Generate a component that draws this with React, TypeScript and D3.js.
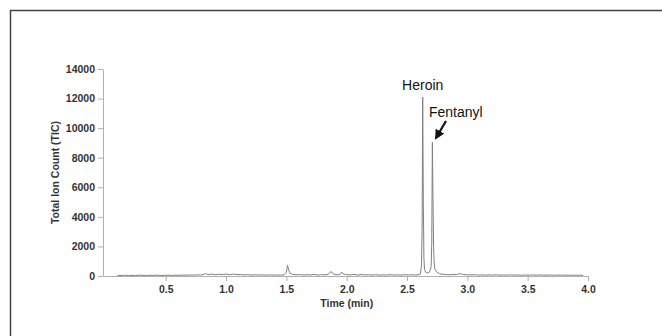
import * as d3 from "d3";
import { useEffect, useRef } from "react";

// retention time (min) and total ion count
const times = [
  0.1, 0.13, 0.16, 0.19, 0.22, 0.25, 0.28, 0.31, 0.34, 0.37, 0.4, 0.43, 0.46, 0.49,
  0.52, 0.55, 0.58, 0.61, 0.64, 0.67, 0.7, 0.73, 0.76, 0.79, 0.82, 0.83, 0.85, 0.88,
  0.91, 0.94, 0.97, 1.0, 1.03, 1.06, 1.09, 1.12, 1.15, 1.18, 1.21, 1.24, 1.27, 1.3,
  1.33, 1.36, 1.39, 1.42, 1.45, 1.48, 1.5, 1.51, 1.52, 1.53, 1.55, 1.58, 1.61, 1.64,
  1.67, 1.7, 1.73, 1.76, 1.79, 1.82, 1.85, 1.87, 1.88, 1.9, 1.93, 1.95, 1.96, 1.97,
  2.0, 2.03, 2.06, 2.09, 2.12, 2.15, 2.18, 2.21, 2.24, 2.27, 2.3, 2.33, 2.36, 2.39,
  2.42, 2.45, 2.48, 2.51, 2.54, 2.57, 2.6, 2.61, 2.62, 2.625, 2.63, 2.635, 2.64,
  2.645, 2.655, 2.67, 2.685, 2.695, 2.7, 2.705, 2.71, 2.715, 2.72, 2.725, 2.73,
  2.74, 2.755, 2.77, 2.79, 2.82, 2.85, 2.88, 2.91, 2.94, 2.95, 2.97, 3.0, 3.03,
  3.06, 3.09, 3.12, 3.15, 3.18, 3.21, 3.24, 3.27, 3.3, 3.33, 3.36, 3.39, 3.42, 3.45,
  3.48, 3.51, 3.54, 3.57, 3.6, 3.63, 3.66, 3.69, 3.72, 3.75, 3.78, 3.81, 3.84, 3.87,
  3.9, 3.93, 3.96,
];
const tic = [
  40, 30, 50, 35, 45, 30, 55, 40, 35, 50, 40, 60, 35, 45,
  50, 40, 55, 45, 60, 50, 70, 55, 80, 65, 110, 170, 90, 130,
  80, 120, 90, 140, 85, 130, 90, 100, 70, 90, 60, 80, 65, 75,
  55, 80, 60, 70, 55, 80, 250, 720, 400, 180, 110, 80, 100, 60,
  90, 70, 110, 60, 90, 75, 120, 310, 200, 100, 80, 150, 260, 140,
  90, 70, 110, 60, 100, 70, 85, 60, 95, 55, 75, 60, 90, 65,
  80, 60, 90, 70, 85, 60, 100, 130, 700, 3200, 12100, 5000, 1200,
  450, 250, 200, 260, 480, 650, 2200, 9050, 5200, 2000, 900, 500,
  320, 220, 160, 120, 100, 80, 110, 90, 160, 130, 100, 80, 70,
  90, 60, 80, 55, 75, 60, 85, 50, 70, 60, 80, 55, 70, 50,
  65, 55, 75, 50, 70, 60, 55, 70, 50, 65, 55, 60, 45, 60,
  50, 55, 45,
];
const xTicks = [0.5, 1.0, 1.5, 2.0, 2.5, 3.0, 3.5, 4.0];
const yTicks = [0, 2000, 4000, 6000, 8000, 10000, 12000, 14000];

const W = 662;
const H = 336;

export default function App() {
  const ref = useRef<SVGSVGElement | null>(null);

  useEffect(() => {
    if (!ref.current) return;
    const svg = d3.select(ref.current);
    svg.selectAll("*").remove();

    const font = "'Liberation Sans', Arial, sans-serif";

    // frame
    svg.append("path")
      .attr("d", `M10.5,${H} V10.5 H${W}`)
      .attr("fill", "none")
      .attr("stroke", "#444")
      .attr("stroke-width", 1.5);

    const x = d3.scaleLinear().domain([-0.02, 4]).range([103, 588]);
    const y = d3.scaleLinear().domain([0, 14000]).range([276, 69]);

    const xAxis = svg.append("g")
      .attr("transform", `translate(0,${y(0)})`)
      .call(d3.axisBottom(x).tickValues(xTicks).tickFormat(d3.format(".1f")).tickSize(5).tickSizeOuter(0).tickPadding(5));

    const yAxis = svg.append("g")
      .attr("transform", `translate(${x(-0.02)},0)`)
      .call(d3.axisLeft(y).tickValues(yTicks).tickFormat(d3.format("d")).tickSize(5).tickSizeOuter(0).tickPadding(3));

    [xAxis, yAxis].forEach((g) => {
      g.select(".domain").attr("stroke", "#b0b0b0");
      g.selectAll(".tick line").attr("stroke", "#b0b0b0");
      g.selectAll(".tick text")
        .attr("fill", "#333")
        .style("font-family", font)
        .style("font-size", "10.5px")
        .style("font-weight", "bold");
    });

    // trace
    const line = d3.line<number>()
      .x((_, i) => x(times[i]))
      .y((d) => y(d));
    svg.append("path")
      .datum(tic)
      .attr("d", line)
      .attr("fill", "none")
      .attr("stroke", "#808080")
      .attr("stroke-width", 1);

    // axis titles
    svg.append("text")
      .attr("x", x(2))
      .attr("y", 307)
      .attr("text-anchor", "middle")
      .attr("fill", "#333")
      .style("font-family", font)
      .style("font-size", "10.5px")
      .style("font-weight", "bold")
      .text("Time (min)");

    svg.append("text")
      .attr("transform", `translate(59,${y(7000)}) rotate(-90)`)
      .attr("text-anchor", "middle")
      .attr("fill", "#333")
      .style("font-family", font)
      .style("font-size", "10.5px")
      .style("font-weight", "bold")
      .text("Total Ion Count (TIC)");

    // peak labels
    svg.append("text")
      .attr("x", x(2.63))
      .attr("y", 90)
      .attr("text-anchor", "middle")
      .attr("fill", "#111")
      .style("font-family", font)
      .style("font-size", "14px")
      .text("Heroin");

    svg.append("text")
      .attr("x", 429)
      .attr("y", 117)
      .attr("fill", "#111")
      .style("font-family", font)
      .style("font-size", "14px")
      .text("Fentanyl");

    svg.append("defs").append("marker")
      .attr("id", "arrowhead")
      .attr("viewBox", "0 0 10 10")
      .attr("refX", 8)
      .attr("refY", 5)
      .attr("markerWidth", 4.5)
      .attr("markerHeight", 4.5)
      .attr("orient", "auto")
      .append("path")
      .attr("d", "M0,0 L10,5 L0,10 Z")
      .attr("fill", "#111");

    svg.append("line")
      .attr("x1", 446)
      .attr("y1", 121)
      .attr("x2", 436)
      .attr("y2", 138)
      .attr("stroke", "#111")
      .attr("stroke-width", 2.2)
      .attr("marker-end", "url(#arrowhead)");
  }, []);

  return (
    <svg
      ref={ref}
      width={W}
      height={H}
      style={{ position: "absolute", left: 0, top: 0, background: "#fff" }}
    ></svg>
  );
}
